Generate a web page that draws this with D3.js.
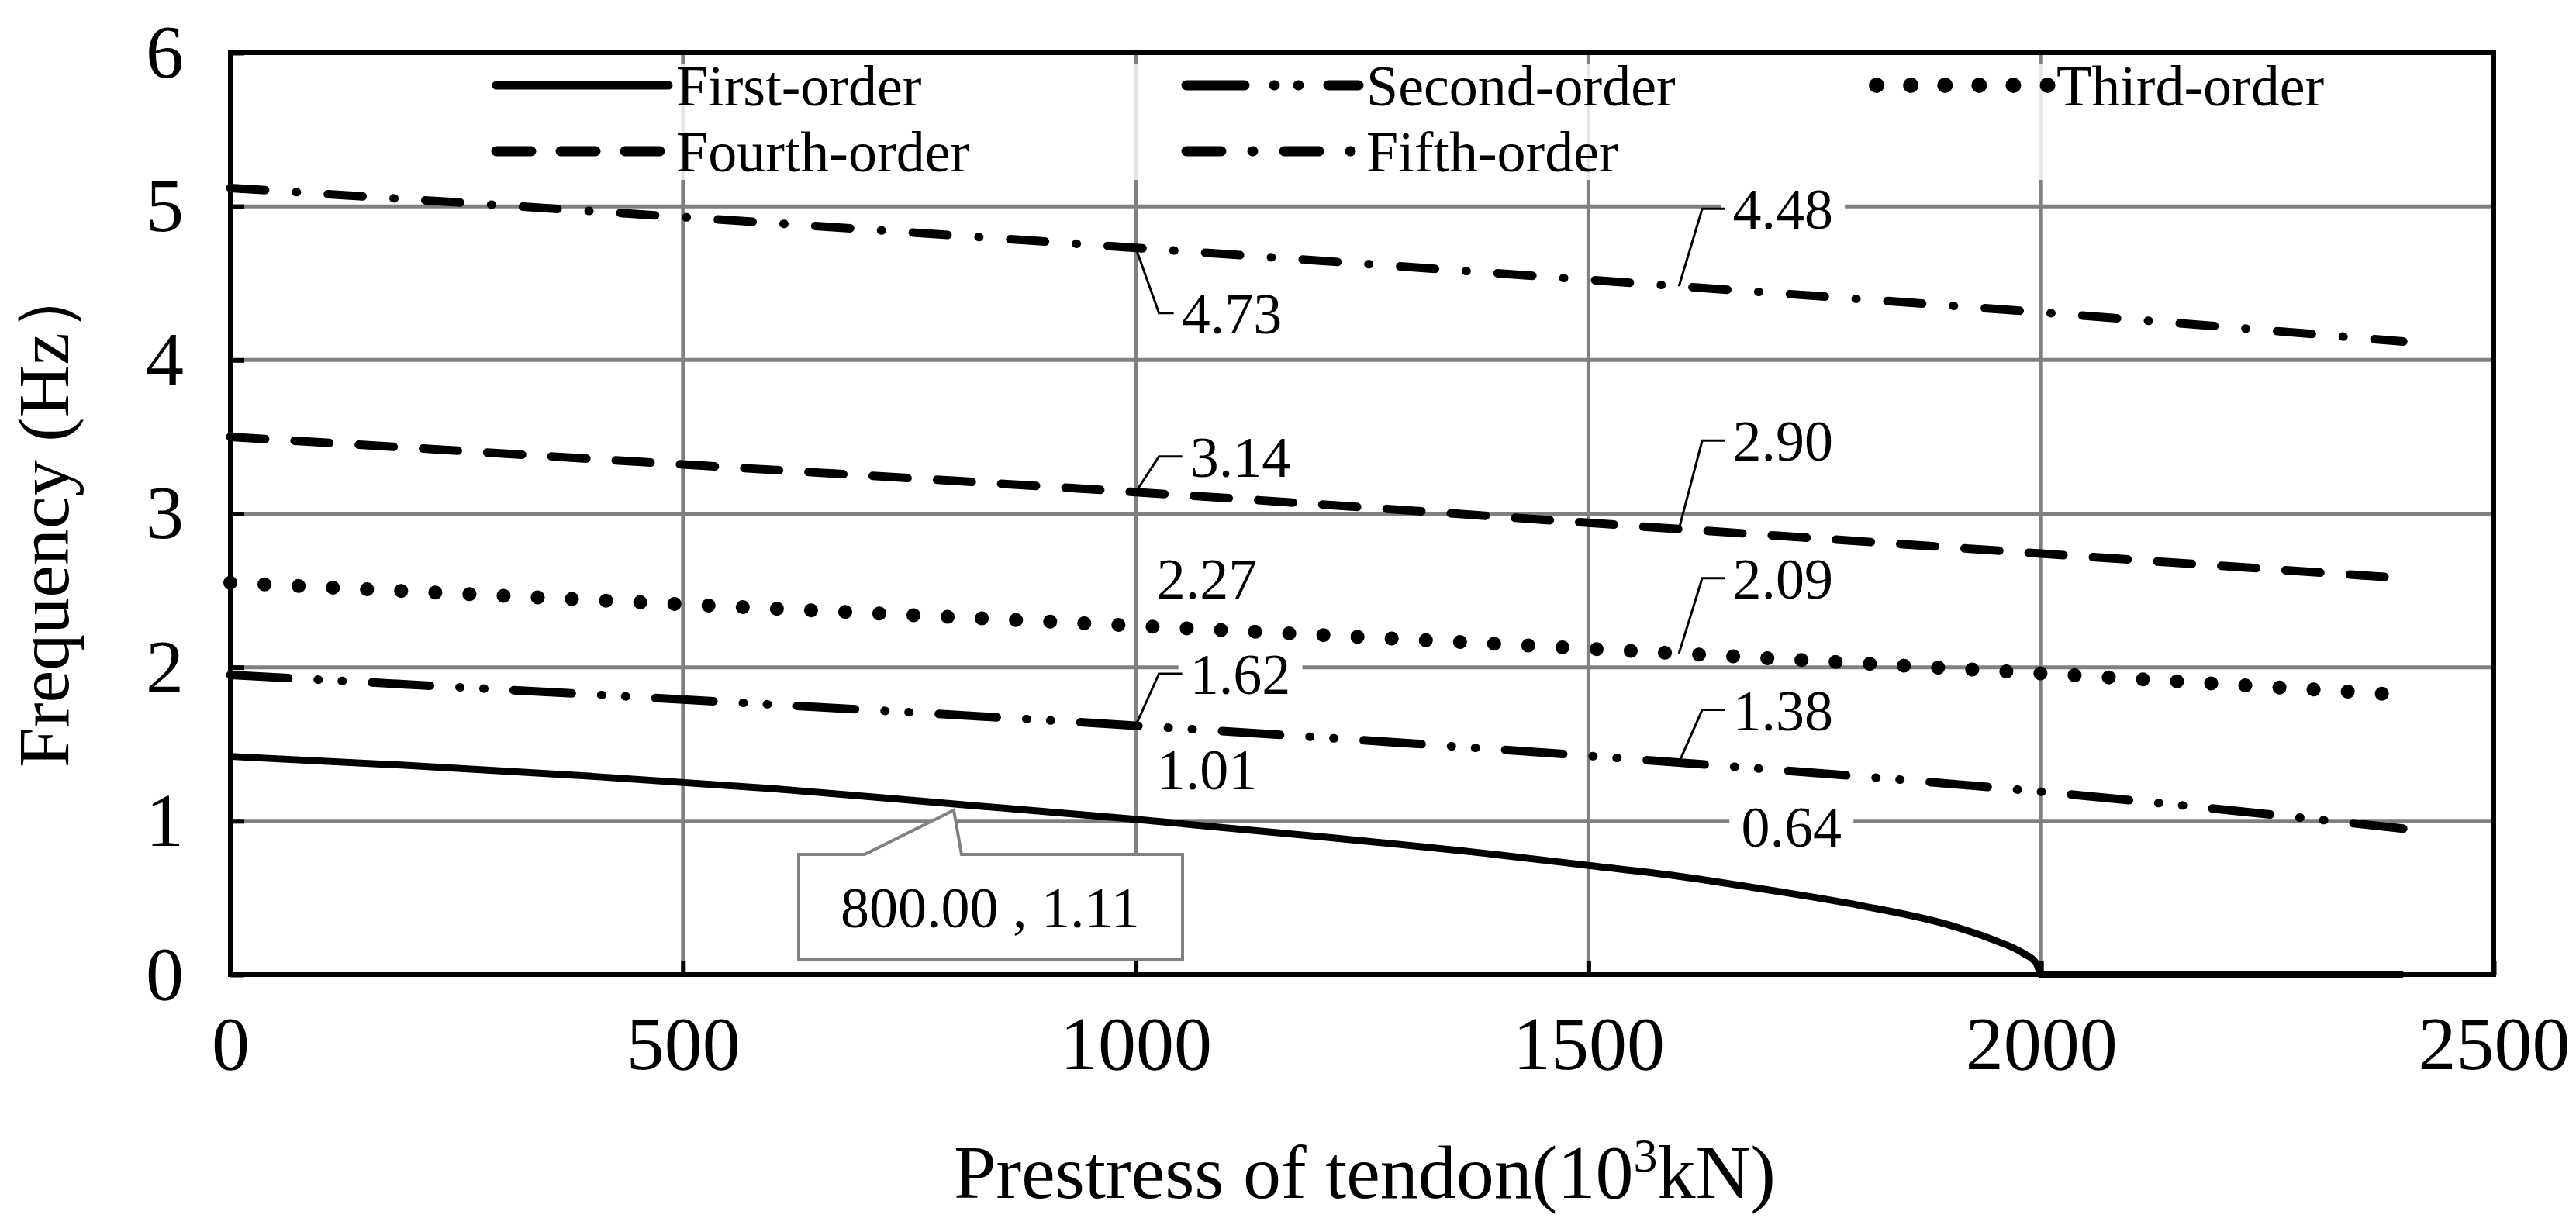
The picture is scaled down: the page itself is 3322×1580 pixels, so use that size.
<!DOCTYPE html><html><head><meta charset="utf-8"><script src="https://cdn.jsdelivr.net/npm/d3@7"></script>
<style>body{margin:0;background:#fff}text{font-family:"Liberation Serif","Times New Roman",serif}</style></head><body><svg id="c" width="3322" height="1580"></svg><script>
const xTicks=[0,500,1000,1500,2000,2500];
const yTicks=[0,1,2,3,4,5,6];
const first=[[0,1.42],[200,1.36],[400,1.29],[600,1.21],[800,1.11],[1000,1.01],[1200,0.90],[1400,0.78],[1500,0.71],[1600,0.64],[1700,0.55],[1800,0.45],[1900,0.32],[1950,0.22],[1980,0.14],[1995,0.07],[2000,0],[2400,0]];
const second=[[0,1.95],[500,1.79],[1000,1.62],[1600,1.38],[2000,1.19],[2400,0.95]];
const third=[[0,2.55],[500,2.41],[1000,2.27],[1600,2.09],[2000,1.96],[2400,1.82]];
const fourth=[[0,3.50],[500,3.32],[1000,3.14],[1600,2.90],[2000,2.74],[2400,2.58]];
const fifth=[[0,5.12],[500,4.93],[1000,4.73],[1600,4.48],[2000,4.31],[2400,4.12]];
const names=["First-order","Second-order","Third-order","Fourth-order","Fifth-order"];
// annotations: [x, y, label, label-center dx(px), dy(px), leader]
const notes=[[1000,4.73,"4.73",124,84,1],[1600,4.48,"4.48",134,-100,1],[1000,3.14,"3.14",135,-46,1],[1600,2.90,"2.90",134,-114,1],[1000,2.27,"2.27",92,-61,0],[1600,2.09,"2.09",134,-97,1],[1000,1.62,"1.62",135,-67,1],[1600,1.38,"1.38",134,-68,1],[1000,1.01,"1.01",92,-65,0],[1600,0.64,"0.64",145,-64,0]];

const svg=d3.select("#c");
const L=297,R=3216,T=68,B=1257;
const x=d3.scaleLinear().domain([0,2500]).range([L,R]);
const y=d3.scaleLinear().domain([0,6]).range([B,T]);
const g=svg.append("g");
g.selectAll(".gy").data(yTicks.slice(1,-1)).join("line").attr("x1",L).attr("x2",R).attr("y1",d=>y(d)).attr("y2",d=>y(d)).attr("stroke","#808080").attr("stroke-width",5);
g.selectAll(".gx").data(xTicks.slice(1,-1)).join("line").attr("y1",T).attr("y2",B).attr("x1",d=>x(d)).attr("x2",d=>x(d)).attr("stroke","#808080").attr("stroke-width",5);
svg.append("rect").attr("x",600).attr("y",82).attr("width",2450).attr("height",150).attr("fill","#fff").attr("opacity",0.8);
// label boxes (under series)
notes.forEach(([px,py,t,dx,dy])=>{const cx=x(px)+dx,cy=y(py)+dy;
 svg.append("rect").attr("x",cx-80).attr("y",cy-38).attr("width",160).attr("height",76).attr("fill","#fff");});
const styles=[
 {w:9,dash:null,cap:"butt"},
 {w:11,dash:"75 38 1 30 1 38",cap:"round"},
 {w:18,dash:"0.1 44",cap:"round"},
 {w:11,dash:"45 38",cap:"round"},
 {w:11,dash:"45 40 1 40",cap:"round"}];
const data=[first,second,third,fourth,fifth];
const line=d3.line().x(d=>x(d[0])).y(d=>y(d[1])).curve(d3.curveMonotoneX);
data.forEach((s,i)=>{svg.append("path").attr("d",line(s)).attr("fill","none").attr("stroke","#000").attr("stroke-width",styles[i].w).attr("stroke-dasharray",styles[i].dash).attr("stroke-linecap",styles[i].cap);});
svg.append("rect").attr("x",L).attr("y",T).attr("width",R-L).attr("height",B-T).attr("fill","none").attr("stroke","#000").attr("stroke-width",6);
const ya=d3.axisLeft(y).tickValues(yTicks).tickFormat(d3.format("d")).tickSize(-18).tickPadding(60);
const xa=d3.axisBottom(x).tickValues(xTicks).tickFormat(d3.format("d")).tickSize(-18).tickPadding(52);
svg.append("g").attr("transform",`translate(${L},0)`).call(ya).call(a=>{a.select(".domain").remove();a.selectAll("line").attr("stroke-width",6);a.selectAll("text").attr("font-size",98).attr("font-family","Liberation Serif").attr("fill","#000");});
svg.append("g").attr("transform",`translate(0,${B})`).call(xa).call(a=>{a.select(".domain").remove();a.selectAll("line").attr("stroke-width",6);a.selectAll("text").attr("font-size",98).attr("font-family","Liberation Serif").attr("fill","#000");});
svg.append("text").attr("transform",`translate(88,${(T+B)/2}) rotate(-90)`).attr("text-anchor","middle").attr("font-size",94).text("Frequency (Hz）");
const xt=svg.append("text").attr("x",1760).attr("y",1545).attr("text-anchor","middle").attr("font-size",98);
xt.append("tspan").text("Prestress of tendon(10");xt.append("tspan").attr("font-size",62).attr("dy",-34).text("3");xt.append("tspan").attr("dy",34).text("kN)");
const lx=[640,1530,2420], ly=[110,195];
names.forEach((n,i)=>{const cx=lx[i%3],cy=ly[Math.floor(i/3)];
 svg.append("line").attr("x1",cx).attr("x2",cx+222).attr("y1",cy).attr("y2",cy).attr("stroke","#000").attr("stroke-width",styles[i].w+2).attr("stroke-dasharray",styles[i].dash).attr("stroke-linecap",styles[i].cap==="butt"?"round":styles[i].cap);
 svg.append("text").attr("x",cx+232).attr("y",cy+26).attr("font-size",74).text(n);});
notes.forEach(([px,py,t,dx,dy,ld])=>{const X=x(px),Y=y(py);const cx=X+dx,cy=y(py)+dy;
 if(ld){svg.append("path").attr("d",`M${X},${Y}L${X+30},${cy}L${cx-75},${cy}`).attr("fill","none").attr("stroke","#000").attr("stroke-width",3);}
 svg.append("text").attr("x",cx).attr("y",cy+26).attr("text-anchor","middle").attr("font-size",74).text(t);});
const cY=y(1.11);
svg.append("path").attr("d",`M1030,1102L1030,1238L1525,1238L1525,1102L1240,1102L1230,${cY+8}L1115,1102Z`).attr("fill","#fff").attr("stroke","#808080").attr("stroke-width",4);
svg.append("text").attr("x",1277).attr("y",1196).attr("text-anchor","middle").attr("font-size",74).text("800.00 , 1.11");
</script></body></html>
